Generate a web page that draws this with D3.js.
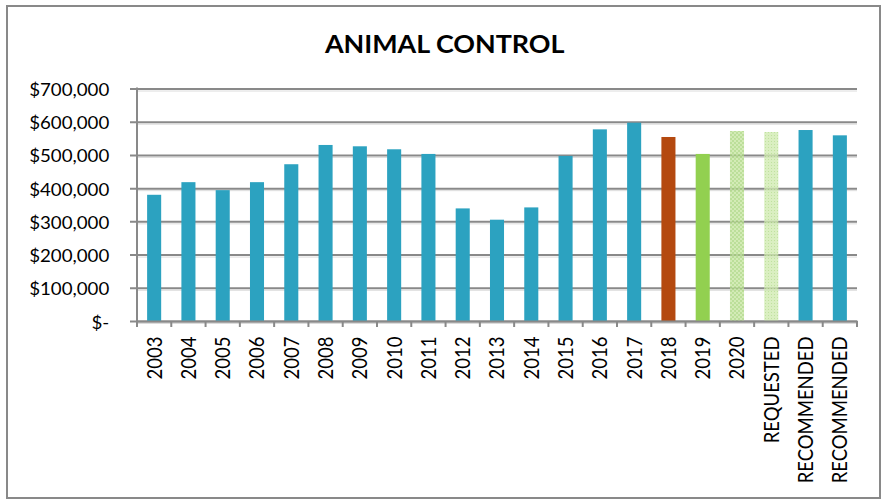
<!DOCTYPE html>
<html>
<head>
<meta charset="utf-8">
<script src="https://cdn.jsdelivr.net/npm/d3@7"></script>
<style>
  html, body { margin: 0; padding: 0; background: #fff; }
  svg { display: block; font-family: Lato, "Open Sans", sans-serif; }
</style>
</head>
<body>
<svg id="chart" width="882" height="500"></svg>
<script>
// Annual animal control budget, actuals plus requested / recommended figures
const categories = ["2003", "2004", "2005", "2006", "2007", "2008", "2009", "2010", "2011",
  "2012", "2013", "2014", "2015", "2016", "2017", "2018", "2019", "2020",
  "REQUESTED", "RECOMMENDED", "RECOMMENDED"];
const values = [380000, 418000, 394000, 418000, 472000, 530000, 526000, 517000, 503000,
  339000, 305000, 342000, 497000, 577000, 597000, 554000, 503000, 572000,
  569000, 575000, 559000];
// kind of figure shown in each column
const kinds = ["actual", "actual", "actual", "actual", "actual", "actual", "actual", "actual", "actual",
  "actual", "actual", "actual", "actual", "actual", "actual", "prior", "current", "budget",
  "requested", "recommended", "recommended"];
const yTicks = [0, 100000, 200000, 300000, 400000, 500000, 600000, 700000];
const chartTitle = "ANIMAL CONTROL";

const svg = d3.select("#chart");
const gridColor = "#898989";
const fontFamily = 'Lato, "Open Sans", sans-serif';
const stretch = 1.12; // text is drawn slightly widened

const plot = { left: 137, right: 857, top: 88.5, bottom: 321 };

const x = d3.scaleBand()
  .domain(d3.range(categories.length))
  .range([plot.left, plot.right])
  .paddingInner(0.59)
  .paddingOuter(0.295);

const y = d3.scaleLinear()
  .domain([0, 700000])
  .range([plot.bottom, plot.top]);

// outer frame
svg.append("rect")
  .attr("x", 7).attr("y", 6).attr("width", 873).attr("height", 492)
  .attr("fill", "#fff").attr("stroke", gridColor).attr("stroke-width", 2);

// fill patterns for the forward-looking columns
const defs = svg.append("defs");
const p1 = defs.append("pattern").attr("id", "budgetFill")
  .attr("patternUnits", "userSpaceOnUse").attr("width", 4).attr("height", 4);
p1.append("rect").attr("width", 4).attr("height", 4).attr("fill", "#c6e6a2");
p1.append("rect").attr("width", 2).attr("height", 2).attr("fill", "#a9d67d");
p1.append("rect").attr("x", 2).attr("y", 2).attr("width", 2).attr("height", 2).attr("fill", "#a9d67d");

const p2 = defs.append("pattern").attr("id", "requestFill")
  .attr("patternUnits", "userSpaceOnUse").attr("width", 3).attr("height", 3);
p2.append("rect").attr("width", 3).attr("height", 3).attr("fill", "#cfeab0");
p2.append("rect").attr("width", 1).attr("height", 1).attr("fill", "#aed984");

const fills = {
  actual: "#2ca2c0",
  prior: "#b4490f",
  current: "#92d050",
  budget: "url(#budgetFill)",
  requested: "url(#requestFill)",
  recommended: "#2ca2c0"
};
const translucent = { budget: 0.78, requested: 0.78 };

// horizontal gridlines + value labels
const yFmt = v => v === 0 ? "$-" : "$" + d3.format(",")(v);
const yAxis = svg.append("g")
  .attr("transform", `translate(130,0)`)
  .call(d3.axisLeft(y).tickValues(yTicks).tickSize(-(plot.right - 130)).tickFormat(yFmt))
  .attr("font-family", fontFamily)
  .attr("font-size", null);
yAxis.select(".domain").remove();
yAxis.selectAll(".tick line")
  .attr("stroke", gridColor).attr("stroke-width", 2);
yAxis.selectAll(".tick").insert("line", "line")
  .attr("x1", 7).attr("x2", plot.right - 130)
  .attr("y1", 2).attr("y2", 2)
  .attr("stroke", "#dcdcdc").attr("stroke-width", 1);
yAxis.selectAll(".tick text")
  .attr("x", null).attr("dy", null)
  .attr("transform", `translate(-20.7,7) scale(${stretch},1)`)
  .attr("fill", "#000")
  .style("font-size", "16.7px")
  .attr("text-anchor", "end");

// columns
svg.append("g").selectAll("rect")
  .data(values)
  .join("rect")
  .attr("x", (d, i) => x(i))
  .attr("width", x.bandwidth())
  .attr("y", d => y(d))
  .attr("height", d => y(0) - y(d))
  .attr("fill", (d, i) => fills[kinds[i]])
  .attr("fill-opacity", (d, i) => translucent[kinds[i]] || 1);

// vertical axis line
svg.append("line")
  .attr("x1", plot.left).attr("x2", plot.left)
  .attr("y1", y(700000) - 1).attr("y2", y(0) + 1)
  .attr("stroke", gridColor).attr("stroke-width", 2);

// category axis
const xAxis = svg.append("g")
  .attr("transform", `translate(0,${plot.bottom})`)
  .call(d3.axisBottom(x).tickSize(0).tickSizeOuter(0).tickFormat(i => categories[i]))
  .attr("font-family", fontFamily)
  .attr("font-size", null);
xAxis.select(".domain").attr("stroke", gridColor).attr("stroke-width", 2);
xAxis.selectAll(".tick text")
  .attr("y", null).attr("dy", null)
  .attr("transform", `translate(0,15.5) scale(${stretch},1) rotate(-90)`)
  .attr("text-anchor", "end")
  .attr("dy", "0.36em")
  .attr("fill", "#000")
  .style("font-size", "18.5px");

// tick marks between the categories
xAxis.append("g").selectAll("line")
  .data(d3.range(categories.length + 1))
  .join("line")
  .attr("x1", i => plot.left + i * x.step())
  .attr("x2", i => plot.left + i * x.step())
  .attr("y1", 0).attr("y2", 6)
  .attr("stroke", gridColor).attr("stroke-width", 2);

// title
svg.append("text")
  .attr("transform", `translate(444.7,53.3) scale(${stretch},1)`)
  .attr("text-anchor", "middle")
  .style("font-size", "24px")
  .style("font-weight", "bold")
  .attr("fill", "#000")
  .text(chartTitle);
</script>
</body>
</html>
